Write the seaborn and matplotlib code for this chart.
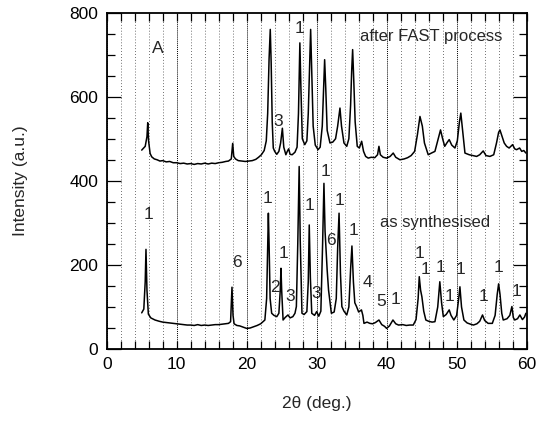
import numpy as np
import pandas as pd
import matplotlib
matplotlib.use("Agg")
import matplotlib.pyplot as plt
from matplotlib.ticker import MultipleLocator
import seaborn as sns

# ---- data: after FAST process (upper trace) ----
top_x = [5.0, 5.5, 5.75, 5.86, 5.98, 6.2, 6.43, 6.8, 7.2, 7.6, 8.0, 8.5, 9.0, 9.5, 10.0, 10.5,
         11.0, 11.5, 12.0, 12.5, 13.0, 13.5, 14.0, 14.5, 15.0, 15.5, 16.0, 16.5, 17.0, 17.4, 17.8,
         18.0, 18.15, 18.4, 18.8, 19.3, 19.8, 20.3, 20.8, 21.3, 21.7, 22.1, 22.5, 22.8, 23.0, 23.2,
         23.37, 23.5, 23.65, 23.8, 24.0, 24.3, 24.6, 24.85, 25.1, 25.3, 25.6, 25.8, 26.0, 26.2, 26.5,
         26.9, 27.2, 27.4, 27.6, 27.75, 27.95, 28.3, 28.6, 28.8, 29.0, 29.14, 29.3, 29.5, 29.8, 30.2,
         30.5, 30.8, 31.0, 31.14, 31.3, 31.5, 31.9, 32.3, 32.7, 33.0, 33.33, 33.55, 33.9, 34.3, 34.6,
         34.85, 35.0, 35.14, 35.3, 35.5, 35.8, 36.1, 36.43, 36.7, 37.0, 37.37, 37.8, 38.3, 38.7, 38.9,
         39.1, 39.5, 40.0, 40.5, 40.94, 41.3, 41.9, 42.5, 43.0, 43.5, 44.0, 44.4, 44.76, 45.1, 45.4,
         45.94, 46.4, 46.9, 47.3, 47.7, 48.0, 48.3, 48.6, 48.94, 49.3, 49.76, 50.1, 50.4, 50.6, 50.85,
         51.19, 51.8, 52.3, 52.86, 53.3, 53.8, 54.2, 54.76, 55.3, 55.7, 56.0, 56.19, 56.5, 56.8, 57.14,
         57.5, 58.0, 58.3, 58.57, 59.0, 59.3, 59.6, 59.9]
top_y = [473, 482, 505, 538, 495, 465, 457, 452, 450, 447, 448, 445, 446, 443, 443, 441,
         442, 440, 441, 439, 441, 440, 442, 440, 442, 441, 443, 444, 446, 447, 452,
         489, 458, 452, 448, 447, 446, 447, 448, 451, 456, 462, 472, 495, 560, 690,
         760, 680, 540, 478, 470, 463, 470, 490, 525, 480, 462, 470, 476, 463, 462,
         468, 480, 560, 728, 620, 500, 486, 495, 560, 680, 760, 660, 530, 485, 474,
         480, 530, 620, 688, 620, 520, 490, 492, 500, 530, 573, 530, 490, 482, 500,
         580, 660, 712, 640, 540, 482, 478, 494, 470, 458, 454, 456, 455, 462, 482,
         462, 456, 454, 458, 466, 456, 450, 452, 455, 460, 470, 510, 553, 530, 490,
         462, 466, 470, 495, 521, 500, 482, 490, 498, 485, 478, 495, 540, 561, 520,
         466, 462, 460, 458, 462, 471, 460, 458, 462, 490, 515, 521, 505, 490, 482,
         478, 486, 476, 474, 478, 470, 472, 466]

# ---- data: as synthesised (lower trace) ----
bot_x = [5.0, 5.3, 5.5, 5.61, 5.75, 5.95, 6.3, 6.9, 7.5, 8.0, 8.5, 9.0, 9.5, 10.0, 10.5, 11.0,
         11.5, 12.0, 12.5, 13.0, 13.5, 14.0, 14.5, 15.0, 15.5, 16.0, 16.5, 17.0, 17.4, 17.7, 17.9,
         18.05, 18.2, 18.6, 19.0, 19.5, 20.0, 20.5, 21.0, 21.5, 22.0, 22.4, 22.6, 22.85, 23.0, 23.1,
         23.2, 23.35, 23.57, 23.9, 24.3, 24.6, 24.8, 24.9, 25.0, 25.2, 25.5, 25.9, 26.2, 26.6, 26.9,
         27.1, 27.3, 27.5, 27.65, 27.9, 28.2, 28.6, 28.8, 28.94, 29.1, 29.3, 29.7, 30.0, 30.3, 30.6,
         30.85, 31.04, 31.2, 31.5, 31.7, 32.1, 32.5, 32.8, 33.0, 33.2, 33.4, 33.6, 33.9, 34.3, 34.6,
         34.85, 35.04, 35.25, 35.45, 35.7, 36.0, 36.4, 36.6, 36.76, 37.2, 37.6, 38.0, 38.4, 38.9, 39.3,
         39.7, 40.0, 40.4, 40.9, 41.3, 41.7, 42.3, 42.8, 43.3, 43.8, 44.2, 44.5, 44.66, 44.85, 45.04,
         45.3, 45.6, 46.0, 46.5, 46.9, 47.3, 47.6, 47.85, 48.1, 48.5, 48.94, 49.2, 49.6, 50.0, 50.3,
         50.47, 50.7, 51.04, 51.5, 52.0, 52.4, 52.9, 53.3, 53.7, 54.0, 54.5, 55.1, 55.5, 55.8, 56.0,
         56.2, 56.45, 56.66, 57.2, 57.6, 57.9, 58.1, 58.3, 58.7, 59.04, 59.4, 59.7, 59.9]
bot_y = [86, 95, 160, 237, 140, 83, 74, 69, 66, 64, 63, 62, 61, 60, 59, 58,
         57, 57, 56, 58, 56, 57, 56, 57, 58, 58, 59, 60, 61, 65, 147,
         80, 60, 56, 55, 52, 49, 50, 53, 56, 60, 66, 69, 120, 250, 323,
         250, 120, 85, 80, 77, 85, 140, 192, 140, 69, 75, 81, 74, 77, 85,
         101, 250, 434, 260, 85, 82, 89, 160, 295, 170, 85, 80, 89, 78, 90,
         250, 394, 280, 188, 140, 85, 88, 120, 240, 323, 180, 101, 90, 81, 100,
         190, 245, 160, 110, 101, 88, 93, 80, 61, 64, 61, 60, 63, 69, 58,
         54, 49, 55, 69, 60, 57, 58, 56, 57, 57, 70, 120, 172, 140, 124,
         90, 69, 66, 64, 65, 100, 160, 110, 77, 82, 93, 80, 69, 80, 120,
         148, 100, 69, 62, 59, 57, 60, 66, 81, 68, 61, 61, 80, 130, 155,
         130, 85, 69, 72, 80, 101, 75, 69, 72, 81, 70, 76, 85]

# ---- peak annotations ----
top_labels = ["A", "3", "1"]
top_label_x = [7.3, 24.5, 27.6]
top_label_y = [715, 540, 762]

bot_labels = ["1", "6", "1", "1", "2", "3", "1", "1", "3", "6", "1", "1", "4", "5", "1",
              "1", "1", "1", "1", "1", "1", "1", "1"]
bot_label_x = [5.9, 18.6, 23.0, 25.3, 24.0, 26.2, 29.0, 31.2, 30.0, 32.0, 33.2, 35.2, 37.2, 39.2, 41.2,
               44.7, 45.5, 47.7, 49.0, 50.6, 53.9, 56.0, 58.5]
bot_label_y = [319, 205, 359, 228, 147, 124, 342, 421, 133, 257, 354, 283, 159, 112, 117,
               226, 190, 195, 126, 188, 124, 193, 136]

series_names = ["after FAST process", "as synthesised"]
series_label_x = [46.3, 46.9]
series_label_y = [742, 300]

x_ticks = [0, 10, 20, 30, 40, 50, 60]
y_ticks = [0, 200, 400, 600, 800]

# ---- build frame ----
df = pd.concat([
    pd.DataFrame({"two_theta": top_x, "intensity": top_y, "sample": series_names[0]}),
    pd.DataFrame({"two_theta": bot_x, "intensity": bot_y, "sample": series_names[1]}),
], ignore_index=True)

sns.set_style("ticks")
plt.rcParams["font.family"] = ["Liberation Sans", "DejaVu Sans"]

fig = plt.figure(figsize=(5.39, 4.36), dpi=100)
ax = fig.add_axes([0.198, 0.1995, 0.779, 0.7716])

sns.lineplot(data=df, x="two_theta", y="intensity", units="sample", estimator=None,
             sort=False, color="black", linewidth=1.1, ax=ax, legend=False)

ax.set_xlim(x_ticks[0], x_ticks[-1])
ax.set_ylim(y_ticks[0], y_ticks[-1])
ax.set_xticks(x_ticks)
ax.set_yticks(y_ticks)
ax.xaxis.set_minor_locator(MultipleLocator(2))
ax.yaxis.set_minor_locator(MultipleLocator(50))

ax.grid(axis="x", which="major", color="black", linestyle=(0, (1, 1)), linewidth=0.7)
ax.grid(axis="x", which="minor", color="0.25", linestyle=(0, (1, 2.5)), linewidth=0.6)
ax.set_axisbelow(True)

for s in ax.spines.values():
    s.set_linewidth(1.3)
    s.set_color("black")

ax.tick_params(axis="both", which="both", direction="in", top=True, right=True,
               labelsize=12.5, colors="black", width=0.9)
ax.tick_params(axis="x", which="major", length=6, pad=6)
ax.tick_params(axis="x", which="minor", length=6)
ax.tick_params(axis="y", which="major", length=10, pad=6)
ax.tick_params(axis="y", which="minor", length=6)

ax.set_xlabel("2θ (deg.)", fontsize=12.5, labelpad=17)
ax.set_ylabel("Intensity (a.u.)", fontsize=12.5, labelpad=30)

for t, x, y in zip(top_labels, top_label_x, top_label_y):
    ax.text(x, y, t, fontsize=12.5, ha="center", va="center")
for t, x, y in zip(bot_labels, bot_label_x, bot_label_y):
    ax.text(x, y, t, fontsize=12.5, ha="center", va="center")
for t, x, y in zip(series_names, series_label_x, series_label_y):
    ax.text(x, y, t, fontsize=12, ha="center", va="center")

fig.savefig("out.png", dpi=100)
